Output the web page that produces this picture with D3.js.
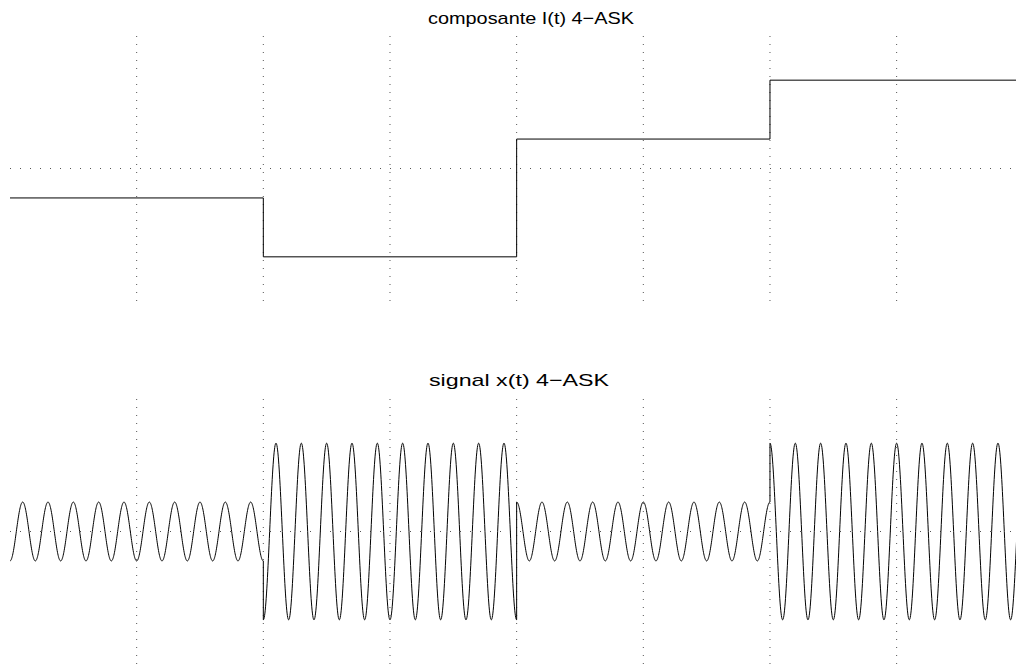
<!DOCTYPE html>
<html>
<head>
<meta charset="utf-8">
<script src="https://cdn.jsdelivr.net/npm/d3@7"></script>
<style>
  html, body { margin: 0; padding: 0; background: #fff; }
  svg { display: block; }
  .title { font-family: "Liberation Sans", Arial, Helvetica, sans-serif; fill: #000; }
</style>
</head>
<body>
<svg id="chart" width="1016" height="666"></svg>
<script>
// ---- data ----
const symbols = [-1, -3, 1, 3];          // 4-ASK levels I(t), one per symbol period
const symbolStarts = [0, 1, 2, 3];       // symbol start times (T = 1)
const carrierCycles = 10;                // carrier periods per symbol
const xGridTicks = [0.5, 1, 1.5, 2, 2.5, 3, 3.5, 4];
const yGridTicks = [0];
const titles = ["composante I(t) 4\u2212ASK", "signal x(t) 4\u2212ASK"];

// ---- layout ----
const W = 1016, H = 666;
const svg = d3.select("#chart");
const x = d3.scaleLinear().domain([0, 4]).range([10, 1023.3]);
const yTop = d3.scaleLinear().domain([-4.5, 4.5]).range([301, 36]);
const yBot = d3.scaleLinear().domain([-4.5, 4.5]).range([664, 399]);

function grid(g, y) {
  g.selectAll("line.vg").data(xGridTicks).enter().append("line")
    .attr("x1", d => x(d)).attr("x2", d => x(d))
    .attr("y1", y(4.5)).attr("y2", y(-4.5))
    .attr("stroke", "#555").attr("stroke-width", 1)
    .attr("stroke-dasharray", "1,7");
  g.selectAll("line.hg").data(yGridTicks).enter().append("line")
    .attr("x1", x(0)).attr("x2", W)
    .attr("y1", d => y(d)).attr("y2", d => y(d))
    .attr("stroke", "#555").attr("stroke-width", 1)
    .attr("stroke-dasharray", "1,9");
}

// top: I(t) step
const gTop = svg.append("g");
grid(gTop, yTop);
const stepPts = [];
symbols.forEach((v, i) => {
  stepPts.push([symbolStarts[i], v]);
  stepPts.push([symbolStarts[i] + 1, v]);
});
gTop.append("path")
  .attr("d", d3.line().x(d => x(d[0])).y(d => yTop(d[1]))(stepPts))
  .attr("fill", "none").attr("stroke", "#000").attr("stroke-width", 1);

// bottom: x(t) = I(t) cos(2π fc t)
const gBot = svg.append("g");
grid(gBot, yBot);
const sigPts = [];
const N = 800;
symbols.forEach((v, i) => {
  for (let k = 0; k <= N; k++) {
    const t = symbolStarts[i] + k / N;
    sigPts.push([t, v * Math.cos(2 * Math.PI * carrierCycles * t)]);
  }
});
gBot.append("path")
  .attr("d", d3.line().x(d => x(d[0])).y(d => yBot(d[1]))(sigPts))
  .attr("fill", "none").attr("stroke", "#000").attr("stroke-width", 1);

// titles
svg.append("text").attr("class", "title")
  .attr("x", 428).attr("y", 24)
  .attr("font-size", 17)
  .attr("textLength", 206).attr("lengthAdjust", "spacingAndGlyphs")
  .text(titles[0]);
svg.append("text").attr("class", "title")
  .attr("x", 429).attr("y", 385.5)
  .attr("font-size", 17)
  .attr("textLength", 180).attr("lengthAdjust", "spacingAndGlyphs")
  .text(titles[1]);
</script>
</body>
</html>
